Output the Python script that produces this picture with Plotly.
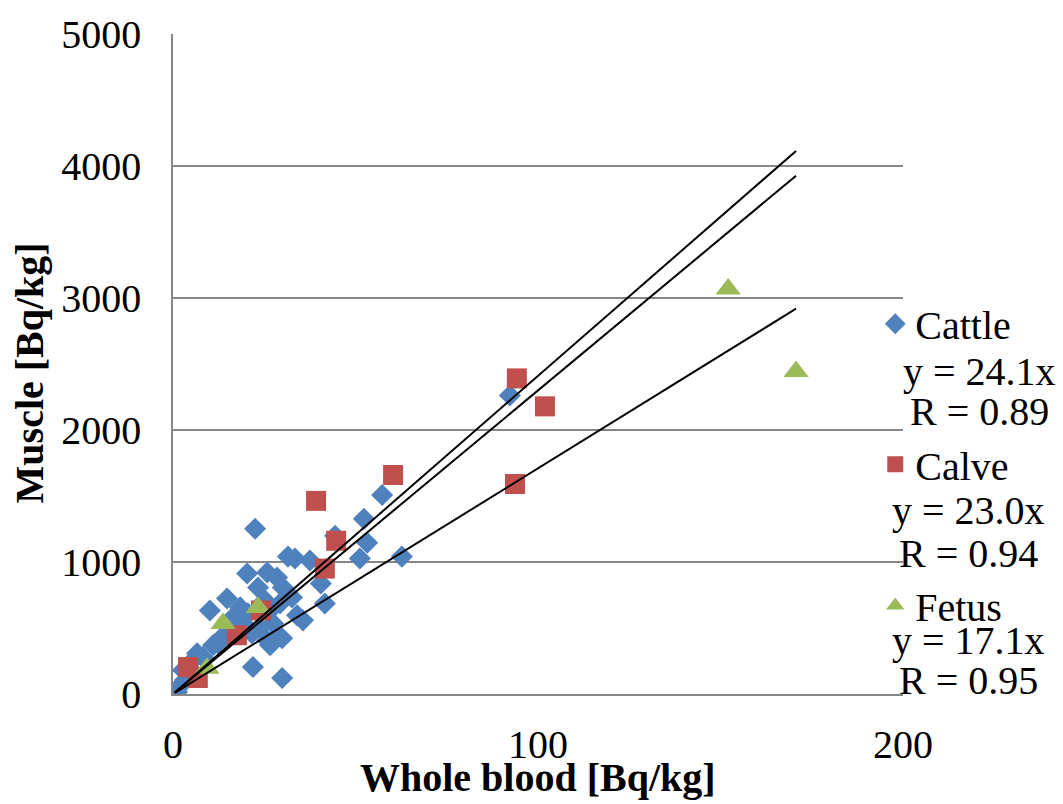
import plotly.graph_objects as go

# ---- data ----
cattle_x = [92.3, 57.3, 52.3, 53.2, 51.2, 62.7, 44.4, 40.5, 41.6, 22.5,
            31.5, 33.4, 37.5, 20.3, 25.8, 28.5, 23.3, 14.8, 18.4, 10.1,
            30.1, 29.3, 32.6, 34.0, 17.0, 20.5, 26.6, 27.4, 23.8, 12.3,
            15.6, 21.6, 25.8, 28.5, 21.9, 29.9, 6.6, 8.2, 4.7, 2.7,
            1.1, 0.3, 35.6, 29.9, 26.6, 3.3, 1.9, 5.5, 11.0, 13.4,
            25.2, 19.7]
cattle_y = [2262, 1508, 1327, 1146, 1026, 1041, 1199, 837, 686, 1252,
            1041, 1026, 1011, 913, 920, 882, 807, 724, 656, 633,
            807, 686, 732, 596, 596, 611, 633, 535, 505, 385,
            468, 460, 407, 430, 204, 121, 309, 279, 234, 181,
            15, 8, 558, 422, 370, 106, 60, 166, 370, 430,
            709, 520]

calve_x = [94.2, 101.9, 93.7, 60.3, 39.2, 44.7, 41.6, 24.1, 17.5, 4.1, 6.8]
calve_y = [2391, 2179, 1591, 1659, 1463, 1161, 950, 633, 445, 204, 121]

fetus_x = [152.1, 170.7, 23.3, 13.7, 9.3]
fetus_y = [3069, 2443, 656, 535, 196]

series_names = ["Cattle", "Calve", "Fetus"]
slopes = [24.1, 23.0, 17.1]
r_values = [0.89, 0.94, 0.95]
fit_x = [0.5, 170.7]

x_ticks = [0, 100, 200]
y_ticks = [0, 1000, 2000, 3000, 4000, 5000]

# ---- styles ----
FONT = "Liberation Serif, Times New Roman, serif"
colors = ["#4F81BD", "#C0504D", "#9BBB59"]
symbols = ["diamond", "square", "triangle-up"]
sizes = [17, 20, 22]
legends = ["legend", "legend2", "legend3"]

fig = go.Figure()
data = [(cattle_x, cattle_y), (calve_x, calve_y), (fetus_x, fetus_y)]
for i, (xs, ys) in enumerate(data):
    fig.add_trace(go.Scatter(
        x=xs, y=ys, mode="markers", name=series_names[i],
        marker=dict(symbol=symbols[i], color=colors[i], size=sizes[i],
                    line=dict(width=0)),
        legend=legends[i],
    ))

for s in slopes:
    fig.add_trace(go.Scatter(
        x=fit_x, y=[s * v for v in fit_x], mode="lines",
        line=dict(color="black", width=2), showlegend=False,
        hoverinfo="skip",
    ))

# legend positions (paper coords)
leg_y = [0.561, 0.348, 0.134]
leg_common = dict(x=0.962, xanchor="left", yanchor="middle",
                  font=dict(family=FONT, size=40, color="black"),
                  bgcolor="rgba(0,0,0,0)", itemsizing="trace")

annotations = []
eq_x = [1.105, 1.090, 1.090]
eq_y = [0.489, 0.278, 0.081]
r_y = [0.428, 0.213, 0.021]
for i in range(3):
    annotations.append(dict(text=f"y = {slopes[i]:.1f}x", x=eq_x[i], y=eq_y[i],
                            xref="paper", yref="paper", showarrow=False,
                            xanchor="center", yanchor="middle",
                            font=dict(family=FONT, size=40, color="black")))
    annotations.append(dict(text=f"R = {r_values[i]:.2f}", x=eq_x[i], y=r_y[i],
                            xref="paper", yref="paper", showarrow=False,
                            xanchor="center", yanchor="middle",
                            font=dict(family=FONT, size=40, color="black")))

annotations.append(dict(text="<b>Whole blood [Bq/kg]</b>", x=0.5, y=-0.127,
                        xref="paper", yref="paper", showarrow=False,
                        xanchor="center", yanchor="middle",
                        font=dict(family=FONT, size=40, color="black")))
annotations.append(dict(text="<b>Muscle [Bq/kg]</b>", x=-0.197, y=0.486,
                        xref="paper", yref="paper", showarrow=False,
                        textangle=-90, xanchor="center", yanchor="middle",
                        font=dict(family=FONT, size=40, color="black")))

fig.update_layout(
    width=1063, height=804,
    margin=dict(l=173, r=160, t=31, b=110),
    paper_bgcolor="white", plot_bgcolor="white",
    showlegend=True,
    legend=dict(y=leg_y[0], **leg_common),
    legend2=dict(y=leg_y[1], **leg_common),
    legend3=dict(y=leg_y[2], **leg_common),
    annotations=annotations,
    xaxis=dict(range=[0, 200], tickvals=x_ticks, showgrid=False,
               zeroline=False, showline=True, linecolor="#868686",
               linewidth=1.5, ticks="", ticklabelstandoff=14,
               tickfont=dict(family=FONT, size=40, color="black")),
    yaxis=dict(range=[0, 5000], tickvals=y_ticks, showgrid=True,
               gridcolor="#868686", gridwidth=1.5, zeroline=False,
               showline=True, linecolor="#868686", linewidth=1.5,
               ticks="", ticklabelstandoff=22,
               tickfont=dict(family=FONT, size=40, color="black")),
)

fig.write_html("out.html")
